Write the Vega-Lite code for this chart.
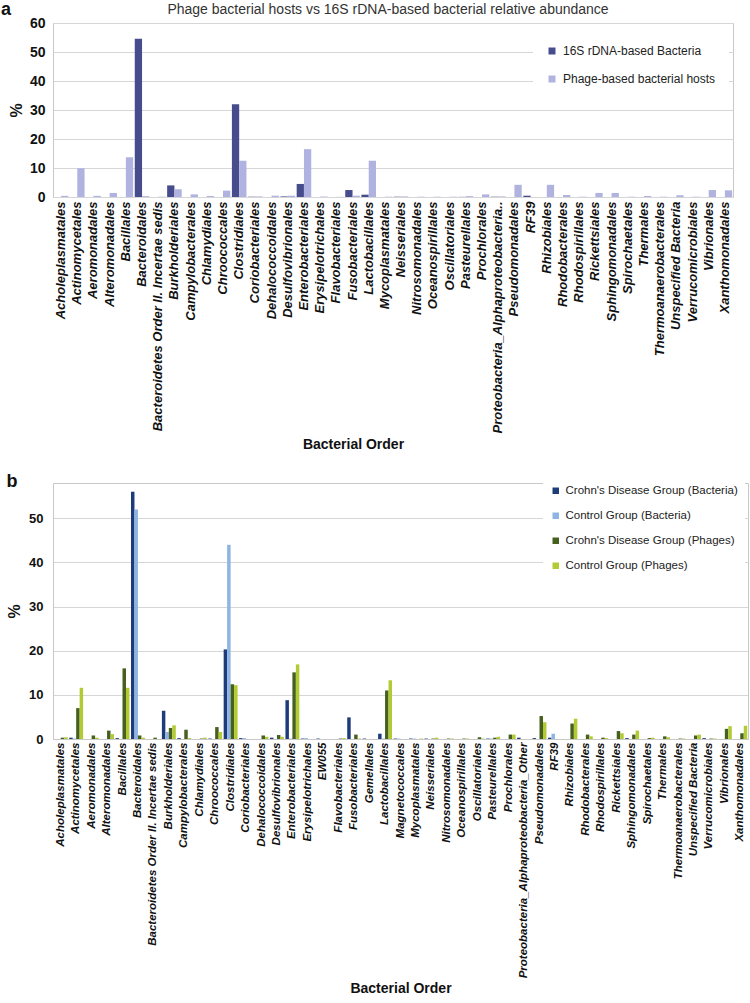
{
"$schema":"https://vega.github.io/schema/vega-lite/v6.json",
"padding":{"left":0,"top":0,"right":0,"bottom":0},
"spacing":20,
"resolve":{"scale":{"x":"independent","xOffset":"independent","y":"independent","color":"independent"},"axis":{"x":"independent","y":"independent"},"legend":{"color":"independent"}},
"config":{"font":"Liberation Sans","view":{"stroke":null},"axis":{"labelColor":"#111","titleColor":"#111"},"legend":{"labelColor":"#222"}},
"datasets":{
"a":[
{"order":"Acholeplasmatales","series":"16S rDNA-based Bacteria","pct":0},{"order":"Acholeplasmatales","series":"Phage-based bacterial hosts","pct":0.4},
{"order":"Actinomycetales","series":"16S rDNA-based Bacteria","pct":0},{"order":"Actinomycetales","series":"Phage-based bacterial hosts","pct":9.9},
{"order":"Aeromonadales","series":"16S rDNA-based Bacteria","pct":0},{"order":"Aeromonadales","series":"Phage-based bacterial hosts","pct":0.4},
{"order":"Alteromonadales","series":"16S rDNA-based Bacteria","pct":0},{"order":"Alteromonadales","series":"Phage-based bacterial hosts","pct":1.4},
{"order":"Bacillales","series":"16S rDNA-based Bacteria","pct":0},{"order":"Bacillales","series":"Phage-based bacterial hosts","pct":13.7},
{"order":"Bacteroidales","series":"16S rDNA-based Bacteria","pct":54.6},{"order":"Bacteroidales","series":"Phage-based bacterial hosts","pct":0.3},
{"order":"Bacteroidetes Order II. Incertae sedis","series":"16S rDNA-based Bacteria","pct":0},{"order":"Bacteroidetes Order II. Incertae sedis","series":"Phage-based bacterial hosts","pct":0.1},
{"order":"Burkholderiales","series":"16S rDNA-based Bacteria","pct":4.0},{"order":"Burkholderiales","series":"Phage-based bacterial hosts","pct":2.7},
{"order":"Campylobacterales","series":"16S rDNA-based Bacteria","pct":0},{"order":"Campylobacterales","series":"Phage-based bacterial hosts","pct":0.9},
{"order":"Chlamydiales","series":"16S rDNA-based Bacteria","pct":0},{"order":"Chlamydiales","series":"Phage-based bacterial hosts","pct":0.35},
{"order":"Chroococcales","series":"16S rDNA-based Bacteria","pct":0},{"order":"Chroococcales","series":"Phage-based bacterial hosts","pct":2.2},
{"order":"Clostridiales","series":"16S rDNA-based Bacteria","pct":32.0},{"order":"Clostridiales","series":"Phage-based bacterial hosts","pct":12.5},
{"order":"Coriobacteriales","series":"16S rDNA-based Bacteria","pct":0.1},{"order":"Coriobacteriales","series":"Phage-based bacterial hosts","pct":0.2},
{"order":"Dehalococcoidales","series":"16S rDNA-based Bacteria","pct":0},{"order":"Dehalococcoidales","series":"Phage-based bacterial hosts","pct":0.45},
{"order":"Desulfovibrionales","series":"16S rDNA-based Bacteria","pct":0.2},{"order":"Desulfovibrionales","series":"Phage-based bacterial hosts","pct":0.45},
{"order":"Enterobacteriales","series":"16S rDNA-based Bacteria","pct":4.5},{"order":"Enterobacteriales","series":"Phage-based bacterial hosts","pct":16.5},
{"order":"Erysipelotrichales","series":"16S rDNA-based Bacteria","pct":0},{"order":"Erysipelotrichales","series":"Phage-based bacterial hosts","pct":0.15},
{"order":"Flavobacteriales","series":"16S rDNA-based Bacteria","pct":0},{"order":"Flavobacteriales","series":"Phage-based bacterial hosts","pct":0.05},
{"order":"Fusobacteriales","series":"16S rDNA-based Bacteria","pct":2.4},{"order":"Fusobacteriales","series":"Phage-based bacterial hosts","pct":0.45},
{"order":"Lactobacillales","series":"16S rDNA-based Bacteria","pct":0.8},{"order":"Lactobacillales","series":"Phage-based bacterial hosts","pct":12.5},
{"order":"Mycoplasmatales","series":"16S rDNA-based Bacteria","pct":0},{"order":"Mycoplasmatales","series":"Phage-based bacterial hosts","pct":0.1},
{"order":"Neisseriales","series":"16S rDNA-based Bacteria","pct":0.1},{"order":"Neisseriales","series":"Phage-based bacterial hosts","pct":0.2},
{"order":"Nitrosomonadales","series":"16S rDNA-based Bacteria","pct":0},{"order":"Nitrosomonadales","series":"Phage-based bacterial hosts","pct":0.1},
{"order":"Oceanospirillales","series":"16S rDNA-based Bacteria","pct":0},{"order":"Oceanospirillales","series":"Phage-based bacterial hosts","pct":0.1},
{"order":"Oscillatoriales","series":"16S rDNA-based Bacteria","pct":0},{"order":"Oscillatoriales","series":"Phage-based bacterial hosts","pct":0.1},
{"order":"Pasteurellales","series":"16S rDNA-based Bacteria","pct":0.05},{"order":"Pasteurellales","series":"Phage-based bacterial hosts","pct":0.3},
{"order":"Prochlorales","series":"16S rDNA-based Bacteria","pct":0},{"order":"Prochlorales","series":"Phage-based bacterial hosts","pct":0.9},
{"order":"Proteobacteria_Alphaproteobacteria..","series":"16S rDNA-based Bacteria","pct":0.1},{"order":"Proteobacteria_Alphaproteobacteria..","series":"Phage-based bacterial hosts","pct":0.2},
{"order":"Pseudomonadales","series":"16S rDNA-based Bacteria","pct":0},{"order":"Pseudomonadales","series":"Phage-based bacterial hosts","pct":4.2},
{"order":"RF39","series":"16S rDNA-based Bacteria","pct":0.45},{"order":"RF39","series":"Phage-based bacterial hosts","pct":0},
{"order":"Rhizobiales","series":"16S rDNA-based Bacteria","pct":0},{"order":"Rhizobiales","series":"Phage-based bacterial hosts","pct":4.2},
{"order":"Rhodobacterales","series":"16S rDNA-based Bacteria","pct":0},{"order":"Rhodobacterales","series":"Phage-based bacterial hosts","pct":0.7},
{"order":"Rhodospirillales","series":"16S rDNA-based Bacteria","pct":0},{"order":"Rhodospirillales","series":"Phage-based bacterial hosts","pct":0.1},
{"order":"Rickettsiales","series":"16S rDNA-based Bacteria","pct":0},{"order":"Rickettsiales","series":"Phage-based bacterial hosts","pct":1.4},
{"order":"Sphingomonadales","series":"16S rDNA-based Bacteria","pct":0},{"order":"Sphingomonadales","series":"Phage-based bacterial hosts","pct":1.4},
{"order":"Spirochaetales","series":"16S rDNA-based Bacteria","pct":0},{"order":"Spirochaetales","series":"Phage-based bacterial hosts","pct":0.1},
{"order":"Thermales","series":"16S rDNA-based Bacteria","pct":0},{"order":"Thermales","series":"Phage-based bacterial hosts","pct":0.35},
{"order":"Thermoanaerobacterales","series":"16S rDNA-based Bacteria","pct":0},{"order":"Thermoanaerobacterales","series":"Phage-based bacterial hosts","pct":0.1},
{"order":"Unspecified Bacteria","series":"16S rDNA-based Bacteria","pct":0},{"order":"Unspecified Bacteria","series":"Phage-based bacterial hosts","pct":0.6},
{"order":"Verrucomicrobiales","series":"16S rDNA-based Bacteria","pct":0},{"order":"Verrucomicrobiales","series":"Phage-based bacterial hosts","pct":0.1},
{"order":"Vibrionales","series":"16S rDNA-based Bacteria","pct":0},{"order":"Vibrionales","series":"Phage-based bacterial hosts","pct":2.4},
{"order":"Xanthomonadales","series":"16S rDNA-based Bacteria","pct":0},{"order":"Xanthomonadales","series":"Phage-based bacterial hosts","pct":2.3}
],
"b":[
{"order":"Acholeplasmatales","group":"Crohn's Disease Group (Bacteria)","pct":0},{"order":"Acholeplasmatales","group":"Control Group (Bacteria)","pct":0},{"order":"Acholeplasmatales","group":"Crohn's Disease Group (Phages)","pct":0.3},{"order":"Acholeplasmatales","group":"Control Group (Phages)","pct":0.4},
{"order":"Actinomycetales","group":"Crohn's Disease Group (Bacteria)","pct":0.3},{"order":"Actinomycetales","group":"Control Group (Bacteria)","pct":0.1},{"order":"Actinomycetales","group":"Crohn's Disease Group (Phages)","pct":7.0},{"order":"Actinomycetales","group":"Control Group (Phages)","pct":11.6},
{"order":"Aeromonadales","group":"Crohn's Disease Group (Bacteria)","pct":0},{"order":"Aeromonadales","group":"Control Group (Bacteria)","pct":0},{"order":"Aeromonadales","group":"Crohn's Disease Group (Phages)","pct":0.8},{"order":"Aeromonadales","group":"Control Group (Phages)","pct":0.3},
{"order":"Alteromonadales","group":"Crohn's Disease Group (Bacteria)","pct":0},{"order":"Alteromonadales","group":"Control Group (Bacteria)","pct":0},{"order":"Alteromonadales","group":"Crohn's Disease Group (Phages)","pct":1.9},{"order":"Alteromonadales","group":"Control Group (Phages)","pct":1.1},
{"order":"Bacillales","group":"Crohn's Disease Group (Bacteria)","pct":0.2},{"order":"Bacillales","group":"Control Group (Bacteria)","pct":0},{"order":"Bacillales","group":"Crohn's Disease Group (Phages)","pct":16.0},{"order":"Bacillales","group":"Control Group (Phages)","pct":11.6},
{"order":"Bacteroidales","group":"Crohn's Disease Group (Bacteria)","pct":56.0},{"order":"Bacteroidales","group":"Control Group (Bacteria)","pct":52.0},{"order":"Bacteroidales","group":"Crohn's Disease Group (Phages)","pct":0.8},{"order":"Bacteroidales","group":"Control Group (Phages)","pct":0.3},
{"order":"Bacteroidetes Order II. Incertae sedis","group":"Crohn's Disease Group (Bacteria)","pct":0},{"order":"Bacteroidetes Order II. Incertae sedis","group":"Control Group (Bacteria)","pct":0},{"order":"Bacteroidetes Order II. Incertae sedis","group":"Crohn's Disease Group (Phages)","pct":0.3},{"order":"Bacteroidetes Order II. Incertae sedis","group":"Control Group (Phages)","pct":0},
{"order":"Burkholderiales","group":"Crohn's Disease Group (Bacteria)","pct":6.4},{"order":"Burkholderiales","group":"Control Group (Bacteria)","pct":1.6},{"order":"Burkholderiales","group":"Crohn's Disease Group (Phages)","pct":2.5},{"order":"Burkholderiales","group":"Control Group (Phages)","pct":3.1},
{"order":"Campylobacterales","group":"Crohn's Disease Group (Bacteria)","pct":0.2},{"order":"Campylobacterales","group":"Control Group (Bacteria)","pct":0},{"order":"Campylobacterales","group":"Crohn's Disease Group (Phages)","pct":2.1},{"order":"Campylobacterales","group":"Control Group (Phages)","pct":0.2},
{"order":"Chlamydiales","group":"Crohn's Disease Group (Bacteria)","pct":0},{"order":"Chlamydiales","group":"Control Group (Bacteria)","pct":0},{"order":"Chlamydiales","group":"Crohn's Disease Group (Phages)","pct":0.1},{"order":"Chlamydiales","group":"Control Group (Phages)","pct":0.3},
{"order":"Chroococcales","group":"Crohn's Disease Group (Bacteria)","pct":0.1},{"order":"Chroococcales","group":"Control Group (Bacteria)","pct":0},{"order":"Chroococcales","group":"Crohn's Disease Group (Phages)","pct":2.7},{"order":"Chroococcales","group":"Control Group (Phages)","pct":1.6},
{"order":"Clostridiales","group":"Crohn's Disease Group (Bacteria)","pct":20.3},{"order":"Clostridiales","group":"Control Group (Bacteria)","pct":44.0},{"order":"Clostridiales","group":"Crohn's Disease Group (Phages)","pct":12.4},{"order":"Clostridiales","group":"Control Group (Phages)","pct":12.2},
{"order":"Coriobacteriales","group":"Crohn's Disease Group (Bacteria)","pct":0.2},{"order":"Coriobacteriales","group":"Control Group (Bacteria)","pct":0.2},{"order":"Coriobacteriales","group":"Crohn's Disease Group (Phages)","pct":0},{"order":"Coriobacteriales","group":"Control Group (Phages)","pct":0},
{"order":"Dehalococcoidales","group":"Crohn's Disease Group (Bacteria)","pct":0},{"order":"Dehalococcoidales","group":"Control Group (Bacteria)","pct":0},{"order":"Dehalococcoidales","group":"Crohn's Disease Group (Phages)","pct":0.8},{"order":"Dehalococcoidales","group":"Control Group (Phages)","pct":0.5},
{"order":"Desulfovibrionales","group":"Crohn's Disease Group (Bacteria)","pct":0.3},{"order":"Desulfovibrionales","group":"Control Group (Bacteria)","pct":0},{"order":"Desulfovibrionales","group":"Crohn's Disease Group (Phages)","pct":0.9},{"order":"Desulfovibrionales","group":"Control Group (Phages)","pct":0.5},
{"order":"Enterobacteriales","group":"Crohn's Disease Group (Bacteria)","pct":8.8},{"order":"Enterobacteriales","group":"Control Group (Bacteria)","pct":0.1},{"order":"Enterobacteriales","group":"Crohn's Disease Group (Phages)","pct":15.1},{"order":"Enterobacteriales","group":"Control Group (Phages)","pct":16.9},
{"order":"Erysipelotrichales","group":"Crohn's Disease Group (Bacteria)","pct":0.1},{"order":"Erysipelotrichales","group":"Control Group (Bacteria)","pct":0.2},{"order":"Erysipelotrichales","group":"Crohn's Disease Group (Phages)","pct":0},{"order":"Erysipelotrichales","group":"Control Group (Phages)","pct":0},
{"order":"EW055","group":"Crohn's Disease Group (Bacteria)","pct":0.1},{"order":"EW055","group":"Control Group (Bacteria)","pct":0},{"order":"EW055","group":"Crohn's Disease Group (Phages)","pct":0},{"order":"EW055","group":"Control Group (Phages)","pct":0},
{"order":"Flavobacteriales","group":"Crohn's Disease Group (Bacteria)","pct":0},{"order":"Flavobacteriales","group":"Control Group (Bacteria)","pct":0},{"order":"Flavobacteriales","group":"Crohn's Disease Group (Phages)","pct":0.1},{"order":"Flavobacteriales","group":"Control Group (Phages)","pct":0.2},
{"order":"Fusobacteriales","group":"Crohn's Disease Group (Bacteria)","pct":4.9},{"order":"Fusobacteriales","group":"Control Group (Bacteria)","pct":0},{"order":"Fusobacteriales","group":"Crohn's Disease Group (Phages)","pct":1.0},{"order":"Fusobacteriales","group":"Control Group (Phages)","pct":0.1},
{"order":"Gemellales","group":"Crohn's Disease Group (Bacteria)","pct":0.1},{"order":"Gemellales","group":"Control Group (Bacteria)","pct":0},{"order":"Gemellales","group":"Crohn's Disease Group (Phages)","pct":0},{"order":"Gemellales","group":"Control Group (Phages)","pct":0},
{"order":"Lactobacillales","group":"Crohn's Disease Group (Bacteria)","pct":1.2},{"order":"Lactobacillales","group":"Control Group (Bacteria)","pct":0.1},{"order":"Lactobacillales","group":"Crohn's Disease Group (Phages)","pct":11.0},{"order":"Lactobacillales","group":"Control Group (Phages)","pct":13.3},
{"order":"Magnetococcales","group":"Crohn's Disease Group (Bacteria)","pct":0.1},{"order":"Magnetococcales","group":"Control Group (Bacteria)","pct":0.1},{"order":"Magnetococcales","group":"Crohn's Disease Group (Phages)","pct":0},{"order":"Magnetococcales","group":"Control Group (Phages)","pct":0},
{"order":"Mycoplasmatales","group":"Crohn's Disease Group (Bacteria)","pct":0.1},{"order":"Mycoplasmatales","group":"Control Group (Bacteria)","pct":0.1},{"order":"Mycoplasmatales","group":"Crohn's Disease Group (Phages)","pct":0},{"order":"Mycoplasmatales","group":"Control Group (Phages)","pct":0.1},
{"order":"Neisseriales","group":"Crohn's Disease Group (Bacteria)","pct":0.1},{"order":"Neisseriales","group":"Control Group (Bacteria)","pct":0},{"order":"Neisseriales","group":"Crohn's Disease Group (Phages)","pct":0.1},{"order":"Neisseriales","group":"Control Group (Phages)","pct":0.3},
{"order":"Nitrosomonadales","group":"Crohn's Disease Group (Bacteria)","pct":0},{"order":"Nitrosomonadales","group":"Control Group (Bacteria)","pct":0},{"order":"Nitrosomonadales","group":"Crohn's Disease Group (Phages)","pct":0.1},{"order":"Nitrosomonadales","group":"Control Group (Phages)","pct":0.1},
{"order":"Oceanospirillales","group":"Crohn's Disease Group (Bacteria)","pct":0},{"order":"Oceanospirillales","group":"Control Group (Bacteria)","pct":0},{"order":"Oceanospirillales","group":"Crohn's Disease Group (Phages)","pct":0.1},{"order":"Oceanospirillales","group":"Control Group (Phages)","pct":0.1},
{"order":"Oscillatoriales","group":"Crohn's Disease Group (Bacteria)","pct":0},{"order":"Oscillatoriales","group":"Control Group (Bacteria)","pct":0},{"order":"Oscillatoriales","group":"Crohn's Disease Group (Phages)","pct":0.4},{"order":"Oscillatoriales","group":"Control Group (Phages)","pct":0.1},
{"order":"Pasteurellales","group":"Crohn's Disease Group (Bacteria)","pct":0.1},{"order":"Pasteurellales","group":"Control Group (Bacteria)","pct":0.1},{"order":"Pasteurellales","group":"Crohn's Disease Group (Phages)","pct":0.3},{"order":"Pasteurellales","group":"Control Group (Phages)","pct":0.5},
{"order":"Prochlorales","group":"Crohn's Disease Group (Bacteria)","pct":0},{"order":"Prochlorales","group":"Control Group (Bacteria)","pct":0},{"order":"Prochlorales","group":"Crohn's Disease Group (Phages)","pct":1.0},{"order":"Prochlorales","group":"Control Group (Phages)","pct":1.0},
{"order":"Proteobacteria_Alphaproteobacteria_Other","group":"Crohn's Disease Group (Bacteria)","pct":0.3},{"order":"Proteobacteria_Alphaproteobacteria_Other","group":"Control Group (Bacteria)","pct":0},{"order":"Proteobacteria_Alphaproteobacteria_Other","group":"Crohn's Disease Group (Phages)","pct":0},{"order":"Proteobacteria_Alphaproteobacteria_Other","group":"Control Group (Phages)","pct":0},
{"order":"Pseudomonadales","group":"Crohn's Disease Group (Bacteria)","pct":0.2},{"order":"Pseudomonadales","group":"Control Group (Bacteria)","pct":0},{"order":"Pseudomonadales","group":"Crohn's Disease Group (Phages)","pct":5.2},{"order":"Pseudomonadales","group":"Control Group (Phages)","pct":3.8},
{"order":"RF39","group":"Crohn's Disease Group (Bacteria)","pct":0.3},{"order":"RF39","group":"Control Group (Bacteria)","pct":1.2},{"order":"RF39","group":"Crohn's Disease Group (Phages)","pct":0},{"order":"RF39","group":"Control Group (Phages)","pct":0},
{"order":"Rhizobiales","group":"Crohn's Disease Group (Bacteria)","pct":0},{"order":"Rhizobiales","group":"Control Group (Bacteria)","pct":0},{"order":"Rhizobiales","group":"Crohn's Disease Group (Phages)","pct":3.5},{"order":"Rhizobiales","group":"Control Group (Phages)","pct":4.6},
{"order":"Rhodobacterales","group":"Crohn's Disease Group (Bacteria)","pct":0},{"order":"Rhodobacterales","group":"Control Group (Bacteria)","pct":0},{"order":"Rhodobacterales","group":"Crohn's Disease Group (Phages)","pct":1.0},{"order":"Rhodobacterales","group":"Control Group (Phages)","pct":0.6},
{"order":"Rhodospirillales","group":"Crohn's Disease Group (Bacteria)","pct":0},{"order":"Rhodospirillales","group":"Control Group (Bacteria)","pct":0},{"order":"Rhodospirillales","group":"Crohn's Disease Group (Phages)","pct":0.3},{"order":"Rhodospirillales","group":"Control Group (Phages)","pct":0.2},
{"order":"Rickettsiales","group":"Crohn's Disease Group (Bacteria)","pct":0},{"order":"Rickettsiales","group":"Control Group (Bacteria)","pct":0},{"order":"Rickettsiales","group":"Crohn's Disease Group (Phages)","pct":1.8},{"order":"Rickettsiales","group":"Control Group (Phages)","pct":1.3},
{"order":"Sphingomonadales","group":"Crohn's Disease Group (Bacteria)","pct":0.2},{"order":"Sphingomonadales","group":"Control Group (Bacteria)","pct":0},{"order":"Sphingomonadales","group":"Crohn's Disease Group (Phages)","pct":1.0},{"order":"Sphingomonadales","group":"Control Group (Phages)","pct":1.9},
{"order":"Spirochaetales","group":"Crohn's Disease Group (Bacteria)","pct":0},{"order":"Spirochaetales","group":"Control Group (Bacteria)","pct":0},{"order":"Spirochaetales","group":"Crohn's Disease Group (Phages)","pct":0.2},{"order":"Spirochaetales","group":"Control Group (Phages)","pct":0.3},
{"order":"Thermales","group":"Crohn's Disease Group (Bacteria)","pct":0},{"order":"Thermales","group":"Control Group (Bacteria)","pct":0},{"order":"Thermales","group":"Crohn's Disease Group (Phages)","pct":0.6},{"order":"Thermales","group":"Control Group (Phages)","pct":0.4},
{"order":"Thermoanaerobacterales","group":"Crohn's Disease Group (Bacteria)","pct":0},{"order":"Thermoanaerobacterales","group":"Control Group (Bacteria)","pct":0},{"order":"Thermoanaerobacterales","group":"Crohn's Disease Group (Phages)","pct":0.1},{"order":"Thermoanaerobacterales","group":"Control Group (Phages)","pct":0.1},
{"order":"Unspecified Bacteria","group":"Crohn's Disease Group (Bacteria)","pct":0},{"order":"Unspecified Bacteria","group":"Control Group (Bacteria)","pct":0},{"order":"Unspecified Bacteria","group":"Crohn's Disease Group (Phages)","pct":0.8},{"order":"Unspecified Bacteria","group":"Control Group (Phages)","pct":1.0},
{"order":"Verrucomicrobiales","group":"Crohn's Disease Group (Bacteria)","pct":0.2},{"order":"Verrucomicrobiales","group":"Control Group (Bacteria)","pct":0},{"order":"Verrucomicrobiales","group":"Crohn's Disease Group (Phages)","pct":0.1},{"order":"Verrucomicrobiales","group":"Control Group (Phages)","pct":0.1},
{"order":"Vibrionales","group":"Crohn's Disease Group (Bacteria)","pct":0},{"order":"Vibrionales","group":"Control Group (Bacteria)","pct":0},{"order":"Vibrionales","group":"Crohn's Disease Group (Phages)","pct":2.3},{"order":"Vibrionales","group":"Control Group (Phages)","pct":2.9},
{"order":"Xanthomonadales","group":"Crohn's Disease Group (Bacteria)","pct":0},{"order":"Xanthomonadales","group":"Control Group (Bacteria)","pct":0},{"order":"Xanthomonadales","group":"Crohn's Disease Group (Phages)","pct":1.3},{"order":"Xanthomonadales","group":"Control Group (Phages)","pct":3.0}
]
},
"vconcat":[
{
"title":{"text":"a","anchor":"start","frame":"bounds","fontSize":18,"fontWeight":"bold","color":"#111","dy":20,"dx":-7},
"vconcat":[
{
"data":{"name":"a"},
"width":680,"height":174,
"title":{"text":"Phage bacterial hosts vs 16S rDNA-based bacterial relative abundance","fontSize":14,"fontWeight":"normal","color":"#333","frame":"group","dx":-5,"offset":-1},
"view":{"stroke":"#c8c8c8"},
"mark":{"type":"bar"},
"encoding":{
"x":{"field":"order","type":"nominal","sort":null,"scale":{"paddingInner":0.1,"paddingOuter":0.05},
"axis":{"title":"Bacterial Order","labelAngle":-90,"labelFontSize":13,"labelFontStyle":"italic","labelFontWeight":"bold","labelPadding":4,"labelLimit":320,"labelOverlap":false,"ticks":false,"domain":false,"titleFontSize":14,"titleFontWeight":"bold","titlePadding":40,"titleX":300}},
"xOffset":{"field":"series","type":"nominal","sort":["16S rDNA-based Bacteria","Phage-based bacterial hosts"]},
"y":{"field":"pct","type":"quantitative","scale":{"domain":[0,60]},
"axis":{"title":"%","values":[0,10,20,30,40,50,60],"grid":true,"gridColor":"#d6d6d6","ticks":false,"domain":false,"labelFontSize":14,"labelFontWeight":"bold","labelPadding":8,"titleFontSize":16,"titleFontWeight":"bold","titlePadding":5}},
"color":{"field":"series","type":"nominal","scale":{"domain":["16S rDNA-based Bacteria","Phage-based bacterial hosts"],"range":["#474c8c","#b0b3df"]},
"legend":{"title":null,"orient":"none","legendX":480,"legendY":9,"fillColor":"white","padding":13,"rowPadding":16,"symbolType":"square","symbolSize":49,"labelFontSize":12,"labelOffset":5,"labelLimit":300}}
}
}
]
},
{
"data":{"name":"b"},
"width":695,"height":256,
"title":{"text":"b","anchor":"start","frame":"bounds","fontSize":18,"fontWeight":"bold","color":"#111","offset":0,"dy":13},
"view":{"stroke":"#c8c8c8"},
"mark":{"type":"bar"},
"encoding":{
"x":{"field":"order","type":"nominal","sort":null,"scale":{"paddingInner":0.1,"paddingOuter":0.05},
"axis":{"title":"Bacterial Order","labelAngle":-90,"labelFontSize":11.5,"labelFontStyle":"italic","labelFontWeight":"bold","labelPadding":3,"labelLimit":320,"labelOverlap":false,"ticks":false,"domainColor":"#c8c8c8","titleFontSize":14,"titleFontWeight":"bold","titlePadding":42}},
"xOffset":{"field":"group","type":"nominal","sort":["Crohn's Disease Group (Bacteria)","Control Group (Bacteria)","Crohn's Disease Group (Phages)","Control Group (Phages)"]},
"y":{"field":"pct","type":"quantitative","scale":{"domain":[0,58]},
"axis":{"title":"%","values":[0,10,20,30,40,50],"grid":true,"gridColor":"#d6d6d6","ticks":false,"domainColor":"#c8c8c8","labelFontSize":13,"labelFontWeight":"bold","labelPadding":10,"titleFontSize":16,"titleFontWeight":"bold","titlePadding":6}},
"color":{"field":"group","type":"nominal","scale":{"domain":["Crohn's Disease Group (Bacteria)","Control Group (Bacteria)","Crohn's Disease Group (Phages)","Control Group (Phages)"],"range":["#1f3c7a","#8db4e2","#45601f","#b2ca33"]},
"legend":{"title":null,"orient":"none","legendX":490,"legendY":-5,"fillColor":"white","padding":7,"rowPadding":12,"symbolType":"square","symbolSize":42,"labelFontSize":11.5,"labelOffset":4,"labelLimit":300}}
}
}
]
}
